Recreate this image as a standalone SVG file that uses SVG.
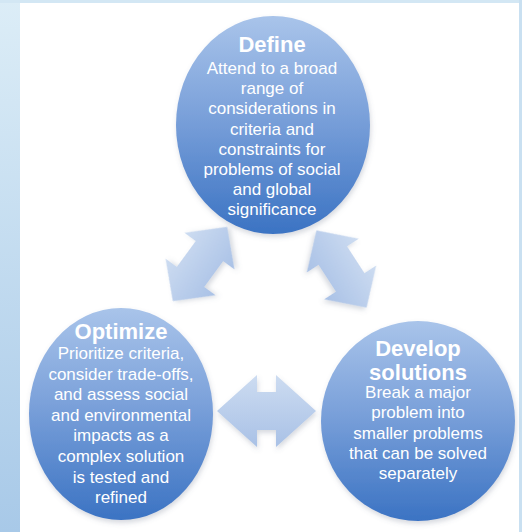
<svg xmlns="http://www.w3.org/2000/svg" width="522" height="532" viewBox="0 0 522 532">
  <defs>
    <linearGradient id="sideBand" x1="0" y1="0" x2="0" y2="1">
      <stop offset="0" stop-color="#dcedf7"/>
      <stop offset="1" stop-color="#a8c9e8"/>
    </linearGradient>
    <linearGradient id="bubble" x1="0" y1="0" x2="0" y2="1">
      <stop offset="0" stop-color="#a9c4ea"/>
      <stop offset="0.45" stop-color="#7ba1da"/>
      <stop offset="1" stop-color="#3b73c3"/>
    </linearGradient>
    <linearGradient id="arrowFill" x1="0" y1="0" x2="0" y2="1">
      <stop offset="0" stop-color="#cddcf1"/>
      <stop offset="1" stop-color="#a9c1e6"/>
    </linearGradient>
    <filter id="softShadow" x="-20%" y="-20%" width="140%" height="140%">
      <feDropShadow dx="1" dy="3" stdDeviation="2.5" flood-color="#5a6a80" flood-opacity="0.25"/>
    </filter>
    <!-- double-headed arrow shapes, centred on the origin along the x axis -->
    <polygon id="arrowDiag" points="-46,0 -16,-31 -16,-17 16,-17 16,-31 46,0 16,31 16,17 -16,17 -16,31"/>
    <polygon id="arrowFlat" points="-49.5,0 -9.5,-36 -9.5,-19 9.5,-19 9.5,-36 49.5,0 9.5,36 9.5,19 -9.5,19 -9.5,36"/>
  </defs>
  <style>
    .bubble { fill: url(#bubble); filter: url(#softShadow); }
    .arrow { fill: url(#arrowFill); filter: url(#softShadow); }
    .title { font-family: "Liberation Sans", Arial, sans-serif; font-weight: bold; font-size: 22px; fill: #ffffff; text-anchor: middle; }
    .body { font-family: "Liberation Sans", Arial, sans-serif; font-size: 17px; fill: #ffffff; text-anchor: middle; }
  </style>

  <!-- page frame -->
  <rect x="0" y="0" width="522" height="532" fill="#ffffff"/>
  <rect x="0" y="0" width="20" height="532" fill="url(#sideBand)"/>
  <rect x="0" y="0" width="522" height="3" fill="#d3e7f4"/>
  <rect x="519" y="0" width="3" height="532" fill="#c9e0f1"/>

  <!-- connectors -->
  <g id="connectors">
    <use href="#arrowDiag" class="arrow" transform="translate(200,264) rotate(-53.8)"/>
    <use href="#arrowDiag" class="arrow" transform="translate(341.5,269) rotate(57)"/>
    <use href="#arrowFlat" class="arrow" transform="translate(266.5,411)"/>
  </g>

  <g id="node-define">
    <ellipse class="bubble" cx="273" cy="125" rx="97" ry="109"/>
    <text class="title" x="272" y="52">Define</text>
    <text class="body" x="272" y="74">Attend to a broad</text>
    <text class="body" x="272" y="94.2">range of</text>
    <text class="body" x="272" y="114.4">considerations in</text>
    <text class="body" x="272" y="134.6">criteria and</text>
    <text class="body" x="272" y="154.8">constraints for</text>
    <text class="body" x="272" y="175">problems of social</text>
    <text class="body" x="272" y="195.2">and global</text>
    <text class="body" x="272" y="215.4">significance</text>
  </g>

  <g id="node-optimize">
    <ellipse class="bubble" cx="121" cy="414" rx="92" ry="106"/>
    <text class="title" x="121" y="339">Optimize</text>
    <text class="body" x="121" y="359">Prioritize criteria,</text>
    <text class="body" x="121" y="379.6">consider trade-offs,</text>
    <text class="body" x="121" y="400.2">and assess social</text>
    <text class="body" x="121" y="420.8">and environmental</text>
    <text class="body" x="121" y="441.4">impacts as a</text>
    <text class="body" x="121" y="462">complex solution</text>
    <text class="body" x="121" y="482.6">is tested and</text>
    <text class="body" x="121" y="503.2">refined</text>
  </g>

  <g id="node-develop">
    <ellipse class="bubble" cx="418" cy="421" rx="97" ry="100"/>
    <text class="title" x="418" y="356">Develop</text>
    <text class="title" x="418" y="380">solutions</text>
    <text class="body" x="418" y="398">Break a major</text>
    <text class="body" x="418" y="418.3">problem into</text>
    <text class="body" x="418" y="438.6">smaller problems</text>
    <text class="body" x="418" y="458.9">that can be solved</text>
    <text class="body" x="418" y="479.2">separately</text>
  </g>
</svg>
